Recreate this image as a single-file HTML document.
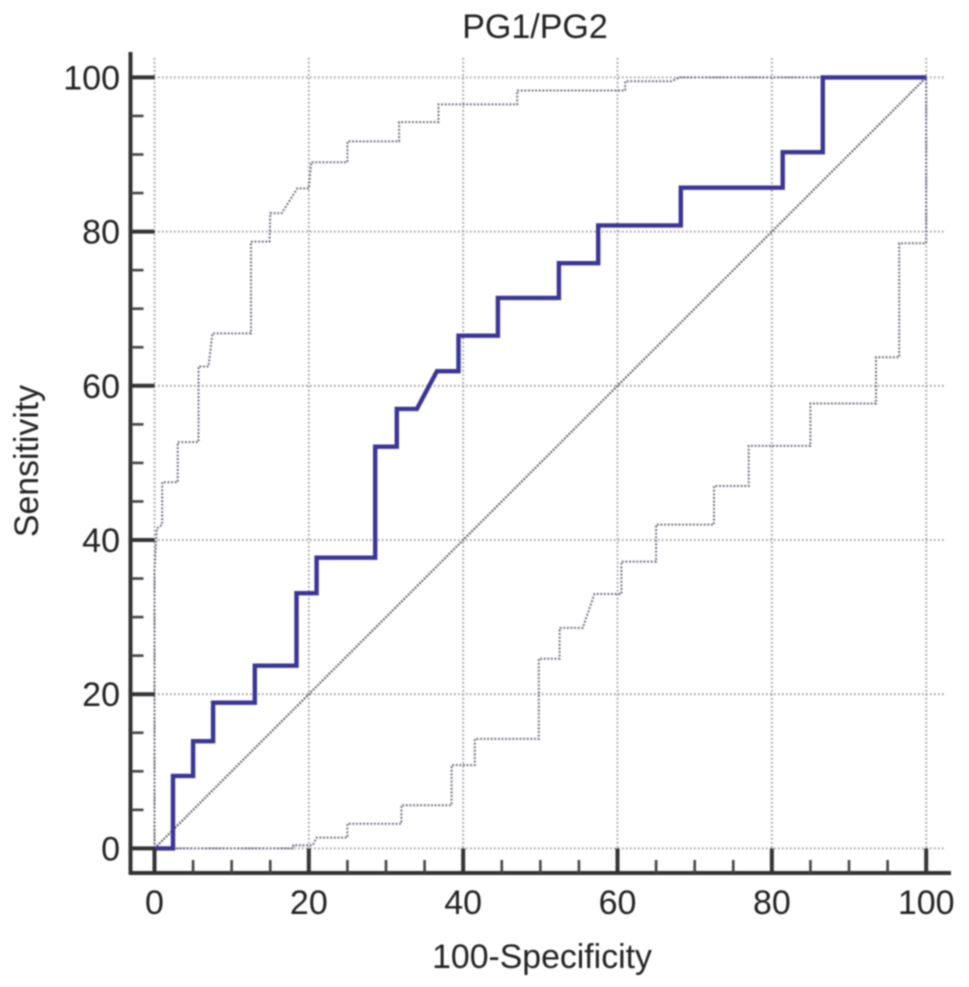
<!DOCTYPE html>
<html lang="en">
<head>
<meta charset="utf-8">
<title>PG1/PG2 ROC curve</title>
<style>
html,body{margin:0;padding:0;background:#fff;}
#chart{display:block;width:969px;height:987px;filter:blur(0.7px);}
text{font-family:"Liberation Sans",Arial,sans-serif;fill:#222;}
</style>
</head>
<body>
<svg id="chart" xmlns="http://www.w3.org/2000/svg" width="969" height="987" viewBox="0 0 969 987">
  <text x="535" y="38" font-size="34" text-anchor="middle">PG1/PG2</text>
  <text x="542" y="968" font-size="33.8" text-anchor="middle">100-Specificity</text>
  <text transform="translate(38,461) rotate(-90)" font-size="33.8" text-anchor="middle">Sensitivity</text>
  <g id="grid"></g>
  <g id="series"></g>
  <g id="axes"></g>
</svg>
<script>
const majorTicks = [0, 20, 40, 60, 80, 100];
const minorTicks = [5, 10, 15, 25, 30, 35, 45, 50, 55, 65, 70, 75, 85, 90, 95];
const referenceX = [0, 100];
const referenceY = [0, 100];
const rocX = [0, 2.4, 2.4, 5, 5, 7.6, 7.6, 13, 13, 18.4, 18.4, 21, 21, 28.6, 28.6, 31.4, 31.4, 34, 36.6, 39.4, 39.4, 44.5, 44.5, 52.4, 52.4, 57.5, 57.5, 68.2, 68.2, 81.4, 81.4, 86.6, 86.6, 100];
const rocY = [0, 0, 9.4, 9.4, 13.9, 13.9, 18.9, 18.9, 23.7, 23.7, 33.1, 33.1, 37.7, 37.7, 52.1, 52.1, 57, 57, 61.9, 61.9, 66.5, 66.5, 71.4, 71.4, 75.9, 75.9, 80.8, 80.8, 85.7, 85.7, 90.3, 90.3, 100, 100];
const upperX = [0, 0, 0.3, 1, 1, 3, 3, 5.7, 5.7, 7, 7.5, 12.5, 12.5, 14.9, 15, 16.5, 18.5, 20, 20.3, 25, 25, 31.7, 31.7, 36.8, 36.8, 47, 47, 61, 61, 67, 68, 100];
const upperY = [0, 36, 41.5, 42, 47.5, 47.5, 52.7, 52.7, 62.5, 62.5, 66.8, 66.8, 78.7, 78.7, 82.4, 82.4, 85.6, 85.6, 89, 89, 91.7, 91.7, 94.2, 94.2, 96.5, 96.5, 98.3, 98.3, 99.5, 99.5, 100, 100];
const lowerX = [0, 18, 18, 20.5, 21, 25, 25, 32, 32, 38.5, 38.5, 41.5, 41.5, 49.8, 49.8, 52.5, 52.5, 55.5, 57, 60.5, 60.5, 65, 65, 72.5, 72.5, 77, 77, 85, 85, 93.5, 93.5, 96.5, 96.5, 100, 100];
const lowerY = [0, 0, 0.4, 0.4, 1.4, 1.4, 3.2, 3.2, 5.6, 5.6, 10.8, 10.8, 14.2, 14.2, 24.6, 24.6, 28.6, 28.6, 33, 33, 37.2, 37.2, 42, 42, 47, 47, 52.2, 52.2, 57.7, 57.7, 63.7, 63.7, 78.5, 78.5, 100];

const SVG_NS = 'http://www.w3.org/2000/svg';
const sx = v => 154.5 + v * 7.717;
const sy = v => 848.4 - v * 7.71;

function make(tag, parent, attrs) {
  const el = document.createElementNS(SVG_NS, tag);
  for (const k in attrs) el.setAttribute(k, attrs[k]);
  parent.appendChild(el);
  return el;
}
function toPoints(xs, ys) {
  return xs.map((x, i) => sx(x).toFixed(1) + ',' + sy(ys[i]).toFixed(1)).join(' ');
}

const grid = document.getElementById('grid');
const series = document.getElementById('series');
const axes = document.getElementById('axes');

majorTicks.forEach(t => {
  const v = make('line', grid, {x1: sx(t), x2: sx(t), y1: 58, y2: 848, stroke: '#999', 'stroke-width': 1.8, 'stroke-dasharray': '1.6 2.4'});
  
  
  const h = make('line', grid, {x1: 154, x2: 945, y1: sy(t), y2: sy(t), stroke: '#999', 'stroke-width': 1.8, 'stroke-dasharray': '1.6 2.4'});
  
  
});

const upperLine = make('polyline', series, {points: toPoints(upperX, upperY), fill: 'none', stroke: '#66667a', 'stroke-width': 2, 'stroke-dasharray': '1.8 1.8'});



const lowerLine = make('polyline', series, {points: toPoints(lowerX, lowerY), fill: 'none', stroke: '#66667a', 'stroke-width': 2, 'stroke-dasharray': '1.8 1.8'});



const refLine = make('polyline', series, {points: toPoints(referenceX, referenceY), fill: 'none', stroke: '#55555e', 'stroke-width': 2, 'stroke-dasharray': '1.8 1.4'});



const rocLine = make('polyline', series, {points: toPoints(rocX, rocY), fill: 'none', stroke: '#3a3596', 'stroke-width': 4.4, 'stroke-linejoin': 'miter'});



const ySpine = make('line', axes, {x1: 130.5, x2: 130.5, y1: 52, y2: 874.5, stroke: '#333', 'stroke-width': 4});


const xSpine = make('line', axes, {x1: 129, x2: 951, y1: 873, y2: 873, stroke: '#333', 'stroke-width': 4});



minorTicks.forEach(t => {
  const a = make('line', axes, {x1: 131, x2: 143.5, y1: sy(t), y2: sy(t), stroke: '#444', 'stroke-width': 2.6});
  
  
  const b = make('line', axes, {x1: sx(t), x2: sx(t), y1: 873, y2: 860, stroke: '#444', 'stroke-width': 2.6});
  
  
});

majorTicks.forEach(t => {
  const a = make('line', axes, {x1: 131, x2: 154.5, y1: sy(t), y2: sy(t), stroke: '#333', 'stroke-width': 4});
  
  
  const b = make('line', axes, {x1: sx(t), x2: sx(t), y1: 873, y2: 848.5, stroke: '#333', 'stroke-width': 4});
  
  
  const yl = make('text', axes, {x: 120, y: sy(t) + 12, 'font-size': 34, 'text-anchor': 'end'});
  
  
  yl.textContent = t;
  const xl = make('text', axes, {x: sx(t), y: 914, 'font-size': 34, 'text-anchor': 'middle'});
  
  
  xl.textContent = t;
});
</script>
</body>
</html>
